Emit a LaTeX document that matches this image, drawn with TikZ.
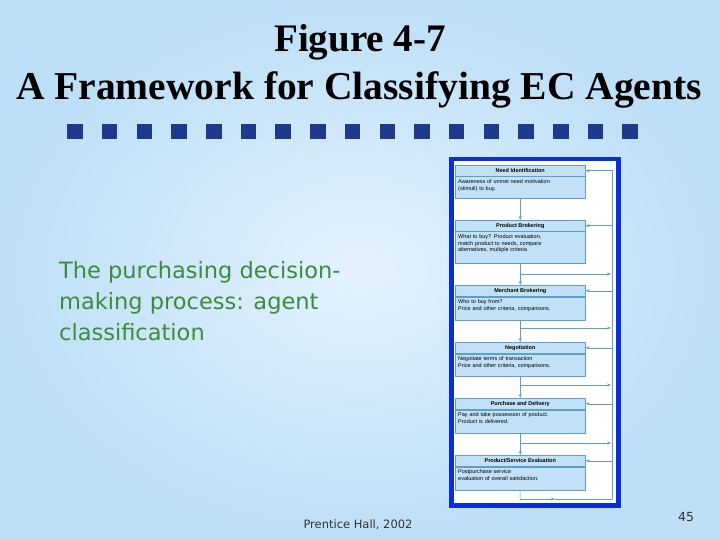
\documentclass[tikz,border=0pt]{standalone}
\usepackage{fontspec}
\setmainfont{Liberation Serif}
\newfontfamily\bodyf{DejaVu Sans}
\newfontfamily\smallf{Liberation Sans}
\usetikzlibrary{arrows.meta}
\definecolor{bgedge}{HTML}{BDDFF7}
\definecolor{bgmid}{HTML}{E3F2FD}
\definecolor{navy}{HTML}{1F3A8C}
\definecolor{frameblue}{HTML}{0A2FD8}
\definecolor{boxfill}{HTML}{C2E1F6}
\definecolor{boxline}{HTML}{5C9FCC}
\definecolor{greentxt}{HTML}{3C8C3C}
\tikzset{
  hdr/.style={draw=boxline,fill=boxfill,line width=0.5pt,minimum width=130pt,minimum height=11pt,inner sep=0pt,font=\smallf\fontsize{5.5}{6}\selectfont\bfseries,anchor=north west},
  desc/.style={draw=boxline,fill=boxfill,line width=0.5pt,text width=124pt,inner xsep=3pt,inner ysep=0pt,align=left,font=\smallf\fontsize{5.5}{6.5}\selectfont,anchor=north west},
  dtxt/.style={anchor=north west,inner sep=0pt,align=left,font=\smallf\fontsize{5.5}{6.5}\selectfont,text width=124pt},
  con/.style={draw=boxline,line width=0.5pt,-{Stealth[length=4pt,width=3pt]}},
  sq/.style={fill=navy,minimum size=15.5pt,inner sep=0pt}
}
\begin{document}
\begin{tikzpicture}[x=1pt,y=-1pt]
\useasboundingbox (0,0) rectangle (720,540);
\shade[inner color=bgmid,outer color=bgedge] (0,0) rectangle (720,540);
\node (t1) at (360,42) {\fontsize{39}{44}\selectfont\bfseries Figure 4-7};
\node (t2) at (359,90) {\fontsize{39.5}{44}\selectfont\bfseries A Framework for Classifying EC Agents};
\foreach \i in {0,...,16} \node[sq] (s\i) at (75+34.7*\i,131.5) {};
\node[anchor=north west,align=left,text=greentxt,font=\bodyf\fontsize{22.5}{31}\selectfont,inner sep=0pt] (body) at (59,261) {The purchasing decision-\\making process: agent\\classification};
\node[font=\bodyf\fontsize{11.5}{12}\selectfont,text=black!80] (foot) at (358,525) {Prentice Hall, 2002};
\node[font=\bodyf\fontsize{12.5}{12}\selectfont,text=black!80] (pg) at (686,517) {45};
% diagram frame
\fill[frameblue] (449,157) rectangle (621,508);
\fill[white] (454,161) rectangle (616,503);
% stages
\foreach \k/\y/\h/\t/\d in {
 1/165/22/{Need Identification}/{Awareness of unmet need motivation\\(stimuli) to buy.},
 2/220/31/{Product Brokering}/{What to buy? Product evaluation,\\match product to needs, compare\\alternatives, multiple criteria},
 3/285/23/{Merchant Brokering}/{Who to buy from?\\Price and other criteria, comparisons.},
 4/342/22/{Negotiation}/{Negotiate terms of transaction\\Price and other criteria, comparisons.},
 5/398/23/{Purchase and Delivery}/{Pay and take possession of product.\\Product is delivered.},
 6/455/23/{Product/Service Evaluation}/{Postpurchase service\\evaluation of overall satisfaction.}} {
  \node[hdr] (h\k) at (455,\y) {\t};
  \node[desc,minimum height=\h pt] (d\k) at (h\k.south west) {};
  \node[dtxt] (x\k) at ([shift={(3,3)}]d\k.north west) {\d};
}
\coordinate (rtop) at (612,170);
\coordinate (rbot) at (612,499);
\draw[boxline,line width=0.5pt] (rtop) -- (rbot);
\foreach \a/\b in {1/2,2/3,3/4,4/5,5/6} {
  \draw[con] (d\a.south -| h\a.south) -- (h\b.north);
}
\foreach \k in {1,...,6} \draw[con] (h\k.east -| rtop) -- (h\k.east);
\foreach \k/\y in {2/274,3/328,4/385,5/443} \draw[con] (520,\y) -- (611,\y);
\coordinate (bl) at (520,499);
\draw[boxline,line width=0.5pt] (d6.south) -- (bl);
\draw[con] (bl) -- (555,499);
\draw[boxline,line width=0.5pt] (555,499) -- (rbot);
\end{tikzpicture}
\end{document}
